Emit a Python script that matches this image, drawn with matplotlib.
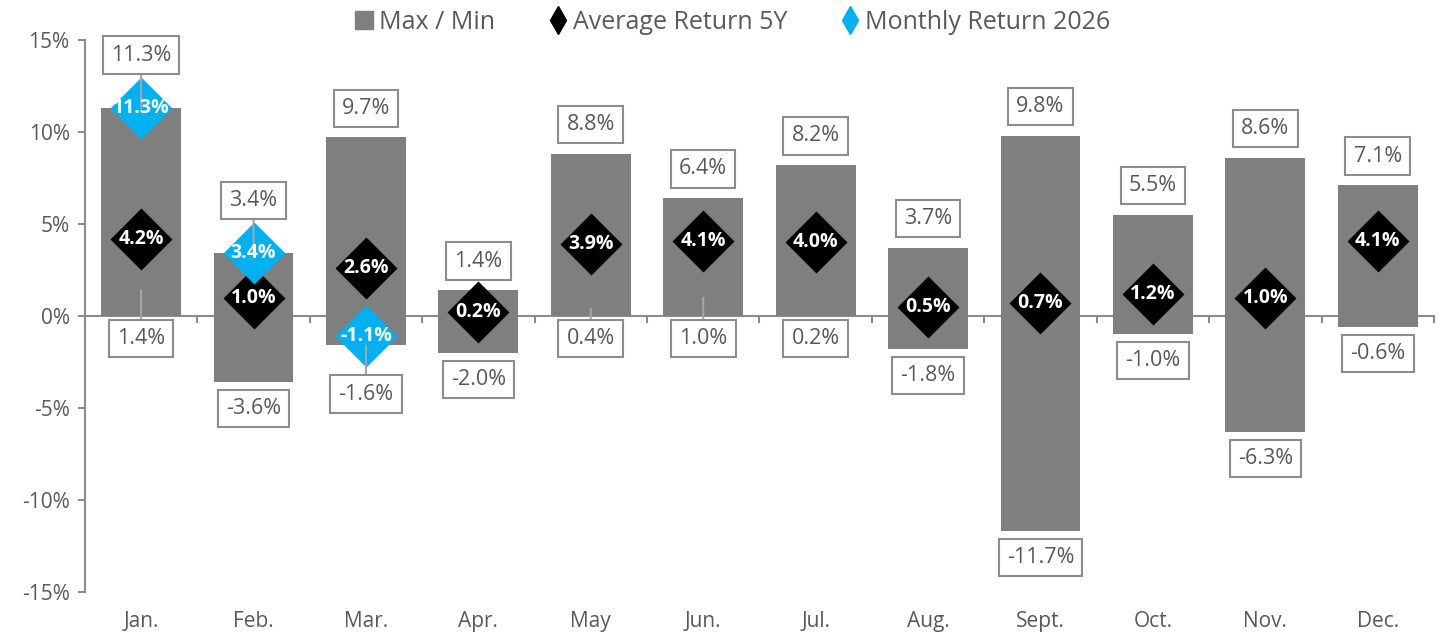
import numpy as np
import matplotlib.pyplot as plt
from matplotlib.lines import Line2D
from matplotlib.text import OffsetFrom

plt.rcParams['font.family'] = ['Open Sans', 'DejaVu Sans']

months = ["Jan.", "Feb.", "Mar.", "Apr.", "May", "Jun.", "Jul.", "Aug.", "Sept.", "Oct.", "Nov.", "Dec."]
max_ret = [11.3, 3.4, 9.7, 1.4, 8.8, 6.4, 8.2, 3.7, 9.8, 5.5, 8.6, 7.1]
min_ret = [1.4, -3.6, -1.6, -2.0, 0.4, 1.0, 0.2, -1.8, -11.7, -1.0, -6.3, -0.6]
avg_5y = [4.2, 1.0, 2.6, 0.2, 3.9, 4.1, 4.0, 0.5, 0.7, 1.2, 1.0, 4.1]
ret_2026 = [11.3, 3.4, -1.1]

yticks = [-15, -10, -5, 0, 5, 10, 15]

BAR = "#7f7f7f"
AXIS = "#8c8c8c"
TEXT = "#595959"
CYAN = "#00b0f0"
LEADER = "#a6a6a6"

fig = plt.figure(figsize=(14.39, 6.32), dpi=100)
ax = fig.add_axes([0.059, 0.063, 0.9375, 0.874])

x = np.arange(len(months))
ax.bar(x, max_ret, width=0.71, color=BAR, zorder=2)
ax.bar(x, min_ret, width=0.71, color=BAR, zorder=2)

ax.plot(x, avg_5y, ls="none", marker="D", ms=32, color="black", mec="none", zorder=3)
x26 = x[:len(ret_2026)]
ax.plot(x26, ret_2026, ls="none", marker="D", ms=32, color=CYAN, mec="none", zorder=4)

box = dict(boxstyle="square,pad=0.38", fc="white", ec=AXIS, lw=1.5)
leader = dict(arrowstyle="-", color=LEADER, lw=1.5, shrinkA=0, shrinkB=0)
LS = 15.5

for i in x:
    # max labels, pushed higher when the 2026 diamond sits on the bar top
    hit = i < len(ret_2026) and abs(ret_2026[i] - max_ret[i]) < 2
    ax.annotate(f"{max_ret[i]:.1f}%", xy=(i, max_ret[i]), xytext=(0, 38 if hit else 21),
                textcoords="offset points", ha="center", va="center", fontsize=LS,
                color=TEXT, bbox=box, zorder=6, arrowprops=leader if hit else None)
    # min labels
    mn = min_ret[i]
    if mn >= 0:
        ax.annotate(f"{mn:.1f}%", xy=(i, mn), xytext=(0, -16),
                    textcoords=OffsetFrom(ax.transData, (i, 0), unit="points"),
                    ha="center", va="center", fontsize=LS, color=TEXT, bbox=box, zorder=6,
                    arrowprops=leader if mn > 0.3 else None)
    else:
        hit = i < len(ret_2026) and abs(ret_2026[i] - mn) < 2
        ax.annotate(f"{mn:.1f}%", xy=(i, mn), xytext=(0, -35 if hit else -19),
                    textcoords="offset points", ha="center", va="center", fontsize=LS,
                    color=TEXT, bbox=box, zorder=6, arrowprops=leader if hit else None)

for i in x:
    ax.text(i, avg_5y[i], f"{avg_5y[i]:.1f}%", ha="center", va="center", fontsize=14,
            fontweight="bold", color="white", zorder=7)
for i, v in zip(x26, ret_2026):
    ax.text(i, v, f"{v:.1f}%", ha="center", va="center", fontsize=14,
            fontweight="bold", color="white", zorder=7)

for i, m in enumerate(months):
    ax.annotate(m, xy=(i, 0), xycoords=("data", "axes fraction"), xytext=(0, -21),
                textcoords="offset points", ha="center", va="center", fontsize=15, color=TEXT)

ax.set_xlim(-0.5, len(months) - 0.5)
ax.set_ylim(-15, 15)
ax.set_yticks(yticks)
ax.set_yticklabels([f"{v}%" for v in yticks])
ax.set_xticks(np.arange(-0.5, len(months), 1))
ax.set_xticklabels([])
ax.spines["bottom"].set_position(("data", 0))
for s in ["top", "right"]:
    ax.spines[s].set_visible(False)
for s in ["bottom", "left"]:
    ax.spines[s].set_color(AXIS)
    ax.spines[s].set_linewidth(1.5)
    ax.spines[s].set_zorder(1)
ax.tick_params(axis="y", length=5, width=1.5, color=AXIS, labelcolor=TEXT, labelsize=15, pad=6)
ax.tick_params(axis="x", length=5, width=1.5, color=AXIS)

handles = [
    Line2D([], [], ls="none", marker="s", ms=13, color=BAR),
    Line2D([], [], ls="none", marker="d", ms=14, color="black"),
    Line2D([], [], ls="none", marker="d", ms=14, color=CYAN),
]
fig.legend(handles, ["Max / Min", "Average Return 5Y", "Monthly Return 2026"],
           loc="upper center", bbox_to_anchor=(0.508, 1.02), ncol=3, frameon=False,
           fontsize=18, labelcolor=TEXT, handletextpad=0.1, columnspacing=2.0,
           handlelength=1.0)

fig.savefig("out.png", dpi=100)
